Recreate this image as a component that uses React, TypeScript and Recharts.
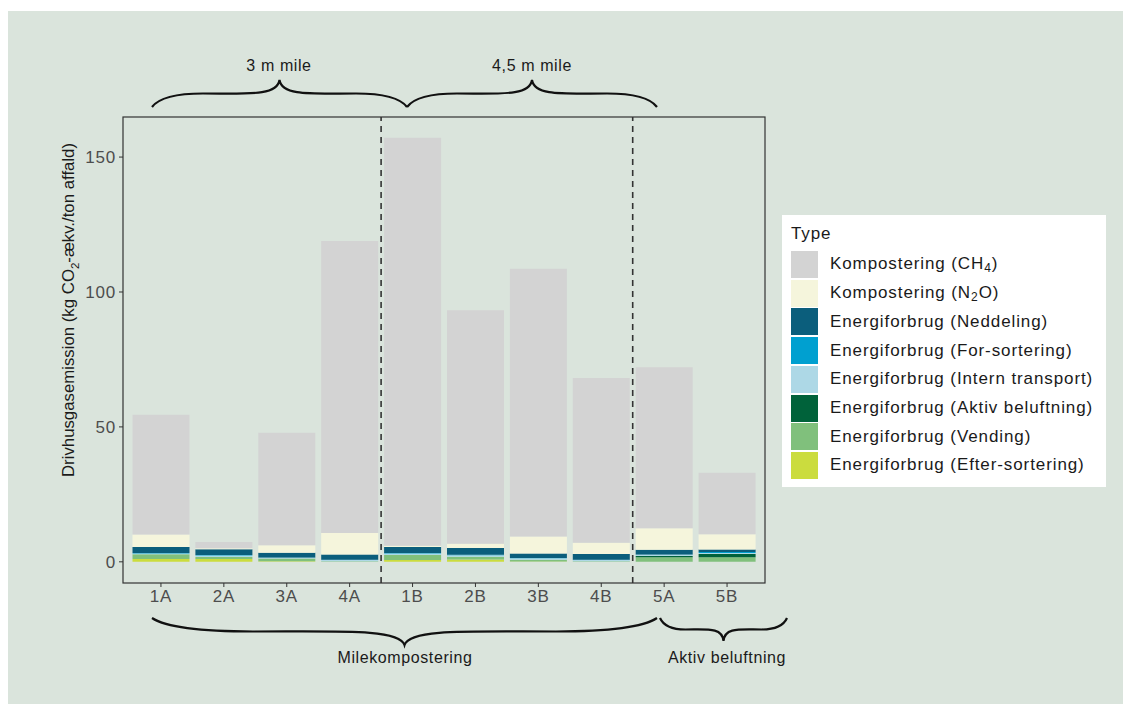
import {
  BarChart,
  Bar,
  XAxis,
  YAxis,
  ReferenceLine,
} from "recharts";

const categories = ["1A", "2A", "3A", "4A", "1B", "2B", "3B", "4B", "5A", "5B"];

const ch4 = [44.4, 2.3, 41.7, 108.2, 151.2, 86.5, 99.2, 61.0, 59.7, 22.8];
const n2o = [4.6, 0.3, 2.7, 8.0, 0.5, 1.6, 6.3, 4.2, 7.9, 5.6];
const neddeling = [2.2, 2.2, 1.8, 1.9, 2.2, 2.5, 1.7, 2.1, 1.8, 1.0];
const forSortering = [0.2, 0.2, 0.1, 0.1, 0.2, 0.2, 0.1, 0.1, 0.1, 0.3];
const internTransport = [0.3, 0.5, 0.3, 0.5, 0.6, 0.5, 0.5, 0.5, 0.4, 0.4];
const aktivBeluftning = [0, 0, 0, 0, 0, 0, 0, 0, 0.5, 1.2];
const vending = [1.8, 0.8, 1.0, 0.2, 1.8, 1.0, 0.7, 0.2, 1.7, 1.7];
const efterSortering = [1.0, 1.0, 0.2, 0, 0.7, 0.9, 0.1, 0, 0, 0];

const yTicks = [0, 50, 100, 150];

// legend order (top of stack first), like ggplot
const series = [
  { key: "ch4", values: ch4, color: "#d3d3d3", label: "Kompostering (CH", sub: "4", after: ")" },
  { key: "n2o", values: n2o, color: "#f5f5dc", label: "Kompostering (N", sub: "2", after: "O)" },
  { key: "neddeling", values: neddeling, color: "#0b5e7c", label: "Energiforbrug (Neddeling)" },
  { key: "forSortering", values: forSortering, color: "#00a0d0", label: "Energiforbrug (For-sortering)" },
  { key: "intern", values: internTransport, color: "#add8e6", label: "Energiforbrug (Intern transport)" },
  { key: "aktiv", values: aktivBeluftning, color: "#00623a", label: "Energiforbrug (Aktiv beluftning)" },
  { key: "vending", values: vending, color: "#80c07c", label: "Energiforbrug (Vending)" },
  { key: "efter", values: efterSortering, color: "#cbdc3e", label: "Energiforbrug (Efter-sortering)" },
];

const data = categories.map((c, i) => {
  const row: any = { name: c };
  series.forEach((s) => (row[s.key] = s.values[i]));
  return row;
});

const FONT = '"Liberation Sans", Arial, sans-serif';
const BG = "#dae4dc";

// plot panel inside the chart
const PANEL = { left: 115, top: 106, right: 757, bottom: 572 };

// curly brace; dir = -1 tip up, 1 tip down
const brace = (x1: number, x2: number, y0: number, h: number, dir: number) => {
  const mid = (x1 + x2) / 2;
  const w = mid - x1;
  const yM = y0 + dir * h * 0.5;
  const yT = y0 + dir * h;
  const e = dir * h * 0.25;
  return (
    `M${x1},${y0} C${x1 + 0.04 * w},${y0 + e} ${x1 + 0.15 * w},${yM} ${x1 + 0.4 * w},${yM} ` +
    `C${mid - 0.25 * w},${yM} ${mid - 0.02 * w},${yM - e * 0.4} ${mid},${yT} ` +
    `C${mid + 0.02 * w},${yM - e * 0.4} ${mid + 0.25 * w},${yM} ${x2 - 0.4 * w},${yM} ` +
    `C${x2 - 0.15 * w},${yM} ${x2 - 0.04 * w},${y0 + e} ${x2},${y0}`
  );
};

const Legend = () => (
  <div
    style={{
      position: "absolute",
      left: 774,
      top: 204,
      width: 324,
      height: 272,
      background: "#fff",
      fontFamily: FONT,
      fontSize: 17,
      letterSpacing: 0.9,
      color: "#1a1a1a",
    }}
  >
    <div style={{ position: "absolute", left: 9, top: 9 }}>Type</div>
    {series.map((s, i) => (
      <div key={s.key} style={{ position: "absolute", left: 9, top: 36 + i * 28.7, display: "flex", alignItems: "center" }}>
        <div style={{ width: 27, height: 27, background: s.color }} />
        <span style={{ marginLeft: 12 }}>
          {s.label}
          {s.sub && <sub style={{ fontSize: 12, verticalAlign: -3 }}>{s.sub}</sub>}
          {s.after}
        </span>
      </div>
    ))}
  </div>
);

export default function App() {
  const tickStyle = { fill: "#4d4d4d", fontSize: 17, fontFamily: FONT, letterSpacing: 0.8 };
  return (
    <div style={{ position: "relative", top: 3, width: 1123, height: 696, background: BG }}>
      <BarChart
        width={1123}
        height={696}
        data={data}
        barSize={57}
        margin={{ top: 106, right: 366, bottom: 94, left: 55 }}
      >
        <XAxis
          dataKey="name"
          height={30}
          padding={{ left: 6.5, right: 6.5 }}
          tick={tickStyle}
          tickSize={4}
          tickMargin={3}
          axisLine={false}
          tickLine={{ stroke: "#333" }}
        />
        <YAxis
          width={60}
          domain={[-7.85, 164.85]}
          ticks={yTicks}
          allowDataOverflow
          tick={tickStyle}
          tickSize={4}
          tickMargin={3}
          axisLine={false}
          tickLine={{ stroke: "#333" }}
        />
        {[...series].reverse().map((s) => (
          <Bar key={s.key} dataKey={s.key} stackId="a" fill={s.color} isAnimationActive={false} />
        ))}
        <ReferenceLine x="4A" position="end" stroke="#333" strokeWidth={1.6} strokeDasharray="6 5" />
        <ReferenceLine x="4B" position="end" stroke="#333" strokeWidth={1.6} strokeDasharray="6 5" />
      </BarChart>

      <svg
        width={1123}
        height={696}
        style={{ position: "absolute", left: 0, top: 0, pointerEvents: "none" }}
        fontFamily={FONT}
      >
        <rect
          x={PANEL.left}
          y={PANEL.top}
          width={PANEL.right - PANEL.left}
          height={PANEL.bottom - PANEL.top}
          fill="none"
          stroke="#333"
          strokeWidth={1.2}
        />
        <g fill="none" stroke="#111" strokeWidth={2.2}>
          <path d={brace(144, 399, 96, 27, -1)} />
          <path d={brace(399, 649, 96, 27, -1)} />
          <path d={brace(144, 649, 607, 27, 1)} />
          <path d={brace(652, 779, 607, 23, 1)} />
        </g>
        <g fontSize={16} fill="#1a1a1a" textAnchor="middle" letterSpacing={0.6}>
          <text x={271} y={60}>3 m mile</text>
          <text x={524} y={60}>4,5 m mile</text>
          <text x={397} y={652}>Milekompostering</text>
          <text x={719} y={652}>Aktiv beluftning</text>
        </g>
        <text
          transform="translate(66,299) rotate(-90)"
          textAnchor="middle"
          fontSize={16.8}
          fill="#1a1a1a"
        >
          Drivhusgasemission (kg  CO
          <tspan fontSize={11.5} dy={5}>2</tspan>
          <tspan dy={-5}>-ækv./ton affald)</tspan>
        </text>
      </svg>

      <Legend />
    </div>
  );
}
